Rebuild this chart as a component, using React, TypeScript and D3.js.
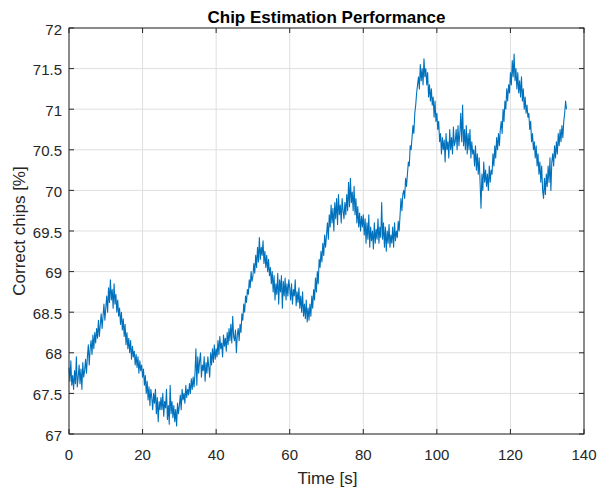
import React from "react";
import * as d3 from "d3";

// Sampling interval of the recorded estimate, in seconds
const SAMPLE_INTERVAL = 0.25;

// Percentage of correctly estimated chips, one value per sample (5 s per row)
const correctChips: number[] = [
  67.82, 67.65, 67.9, 67.6, 67.72, 67.55, 67.78, 67.62, 67.95, 67.58, 67.7, 67.85, 67.62, 67.8, 67.55, 67.88, 67.7, 67.78, 67.92, 67.75,
  67.95, 68.1, 67.85, 68.05, 68.15, 67.98, 68.22, 68.05, 68.25, 68.12, 68.3, 68.18, 68.4, 68.2, 68.35, 68.48, 68.3, 68.45, 68.6, 68.4,
  68.55, 68.7, 68.5, 68.8, 68.62, 68.9, 68.65, 68.78, 68.55, 68.85, 68.6, 68.72, 68.5, 68.65, 68.45, 68.55, 68.35, 68.5, 68.28, 68.42,
  68.2, 68.35, 68.1, 68.25, 68.05, 68.18, 68.0, 68.15, 67.92, 68.08, 67.95, 68.02, 67.85, 67.98, 67.82, 67.95, 67.75, 67.9, 67.78, 67.85,
  67.7, 67.8, 67.6, 67.72, 67.5, 67.65, 67.42, 67.58, 67.35, 67.55, 67.45, 67.3, 67.5, 67.38, 67.55, 67.25, 67.45, 67.15, 67.4, 67.3,
  67.45, 67.3, 67.5, 67.22, 67.4, 67.32, 67.55, 67.18, 67.35, 67.12, 67.6, 67.25, 67.4, 67.2, 67.35, 67.15, 67.3, 67.1, 67.38, 67.25,
  67.35, 67.48, 67.3, 67.55, 67.42, 67.5, 67.38, 67.6, 67.45, 67.55, 67.48, 67.62, 67.5, 67.68, 67.55, 67.7, 67.58, 67.75, 68.05, 67.6,
  67.95, 67.75, 67.9, 68.0, 67.7, 67.85, 67.78, 67.95, 67.65, 67.88, 67.75, 67.95, 67.82, 67.7, 68.0, 67.85, 68.05, 67.88, 68.1, 67.92,
  68.05, 67.95, 68.15, 67.98, 68.2, 68.05, 68.12, 67.95, 68.22, 68.08, 68.18, 68.02, 68.25, 68.1, 68.3, 68.15, 68.35, 68.12, 68.45, 68.2,
  68.15, 68.28, 68.0, 68.22, 68.3, 68.15, 68.35, 68.25, 68.48, 68.4, 68.6, 68.5, 68.7, 68.62, 68.78, 68.72, 68.9, 68.8, 69.0, 68.88,
  68.95, 69.1, 68.98, 69.2, 69.05, 69.3, 69.12, 69.42, 69.15, 69.3, 69.2, 69.38, 69.1, 69.25, 69.05, 69.2, 69.0, 69.15, 68.95, 69.05,
  68.85, 69.0, 68.75, 68.95, 68.65, 68.85, 68.72, 68.98, 68.6, 68.9, 68.75, 68.95, 68.55, 68.88, 68.7, 68.92, 68.65, 68.85, 68.7, 68.9,
  68.8, 68.65, 68.85, 68.6, 68.78, 68.7, 68.9, 68.58, 68.75, 68.62, 68.8, 68.55, 68.7, 68.5, 68.75, 68.45, 68.6, 68.42, 68.65, 68.38,
  68.55, 68.4, 68.6, 68.45, 68.7, 68.55, 68.78, 68.65, 68.92, 68.75, 69.0, 68.85, 69.15, 69.05, 69.25, 69.12, 69.35, 69.2, 69.45, 69.3,
  69.45, 69.6, 69.4, 69.7, 69.55, 69.82, 69.6, 69.78, 69.5, 69.85, 69.65, 69.9, 69.58, 69.95, 69.7, 69.82, 69.6, 69.9, 69.75, 69.65,
  69.85, 69.7, 69.95, 69.75, 70.1, 69.8, 70.15, 69.85, 69.98, 69.75, 70.05, 69.7, 69.9, 69.6, 69.8, 69.55, 69.72, 69.5, 69.68, 69.55,
  69.7, 69.45, 69.65, 69.35, 69.6, 69.4, 69.7, 69.3, 69.55, 69.38, 69.5, 69.28, 69.6, 69.35, 69.52, 69.4, 69.65, 69.35, 69.55, 69.42,
  69.85, 69.4, 69.6, 69.3, 69.55, 69.25, 69.5, 69.35, 69.58, 69.3, 69.45, 69.35, 69.55, 69.3, 69.6, 69.38, 69.5, 69.42, 69.62, 69.5,
  69.7, 69.9, 69.75, 69.95, 70.0, 69.9, 70.15, 70.05, 70.2, 70.35, 70.3, 70.55, 70.5, 70.65, 70.8, 70.7, 70.95, 71.05, 71.2, 71.3,
  71.4, 71.25, 71.55, 71.35, 71.5, 71.3, 71.62, 71.4, 71.5, 71.3, 71.45, 71.15, 71.3, 71.1, 71.25, 71.05, 71.15, 70.9, 71.1, 70.85,
  70.95, 70.75, 70.85, 70.6, 70.7, 70.45, 70.65, 70.5, 70.62, 70.35, 70.7, 70.5, 70.6, 70.4, 70.75, 70.5, 70.65, 70.45, 70.78, 70.55,
  70.6, 70.75, 70.5, 70.8, 70.55, 70.7, 70.95, 70.6, 71.05, 70.55, 70.75, 70.5, 70.8, 70.45, 70.7, 70.5, 70.75, 70.4, 70.6, 70.45,
  70.5, 70.3, 70.55, 70.25, 70.45, 70.2, 70.4, 70.1, 69.78, 70.2, 70.0, 70.35, 70.1, 70.25, 70.05, 70.2, 70.0, 70.3, 70.1, 70.25,
  70.2, 70.45, 70.3, 70.55, 70.4, 70.65, 70.5, 70.7, 70.55, 70.75, 70.85, 70.7, 71.0, 70.85, 71.1, 71.0, 71.25, 71.1, 71.3, 71.2,
  71.45, 71.3, 71.6, 71.4, 71.68, 71.35, 71.5, 71.25, 71.45, 71.2, 71.35, 71.15, 71.4, 71.1, 71.25, 71.0, 71.15, 70.95, 71.05, 70.9,
  70.95, 70.75, 70.85, 70.6, 70.7, 70.5, 70.6, 70.4, 70.55, 70.3, 70.45, 70.2, 70.35, 70.1, 70.3, 70.0, 69.9, 70.15, 69.95, 70.2,
  70.05, 70.3, 70.1, 70.4, 70.0, 70.35, 70.45, 70.3, 70.55, 70.4, 70.6, 70.45, 70.7, 70.55, 70.75, 70.6, 70.8, 70.65, 70.85, 70.95,
  71.1, 71.0,
];

const xTicks = [0, 20, 40, 60, 80, 100, 120, 140];
const yTicks = [67, 67.5, 68, 68.5, 69, 69.5, 70, 70.5, 71, 71.5, 72];

const WIDTH = 597;
const HEIGHT = 489;
const PLOT = { left: 69, right: 584, top: 28, bottom: 434 };
const AXIS_COLOR = "#262626";
const GRID_COLOR = "#dfdfdf";
const LINE_COLOR = "#0072BD";
const FONT = "'Liberation Sans', Arial, Helvetica, sans-serif";

export default function App() {
  const x = d3.scaleLinear().domain([0, 140]).range([PLOT.left, PLOT.right]);
  const y = d3.scaleLinear().domain([67, 72]).range([PLOT.bottom, PLOT.top]);

  const points: [number, number][] = correctChips.map((v, i) => [i * SAMPLE_INTERVAL, v]);
  const line = d3
    .line<[number, number]>()
    .x((d) => x(d[0]))
    .y((d) => y(d[1]));

  const tickLen = 5;

  return (
    <svg
      width={WIDTH}
      height={HEIGHT}
      style={{ position: "absolute", left: 0, top: 0, background: "#fff" }}
      fontFamily={FONT}
    >
      <rect x={0} y={0} width={WIDTH} height={HEIGHT} fill="#fff" />

      {/* grid */}
      {xTicks.map((t) => (
        <line key={`gx${t}`} x1={x(t)} x2={x(t)} y1={PLOT.top} y2={PLOT.bottom} stroke={GRID_COLOR} strokeWidth={1} />
      ))}
      {yTicks.map((t) => (
        <line key={`gy${t}`} x1={PLOT.left} x2={PLOT.right} y1={y(t)} y2={y(t)} stroke={GRID_COLOR} strokeWidth={1} />
      ))}

      {/* data */}
      <path d={line(points) ?? ""} fill="none" stroke={LINE_COLOR} strokeWidth={1.1} strokeLinejoin="round" />

      {/* box */}
      <rect
        x={PLOT.left}
        y={PLOT.top}
        width={PLOT.right - PLOT.left}
        height={PLOT.bottom - PLOT.top}
        fill="none"
        stroke={AXIS_COLOR}
        strokeWidth={1}
      />

      {/* ticks on all four sides, pointing inward */}
      {xTicks.map((t) => (
        <g key={`tx${t}`} stroke={AXIS_COLOR} strokeWidth={1}>
          <line x1={x(t)} x2={x(t)} y1={PLOT.bottom} y2={PLOT.bottom - tickLen} />
          <line x1={x(t)} x2={x(t)} y1={PLOT.top} y2={PLOT.top + tickLen} />
        </g>
      ))}
      {yTicks.map((t) => (
        <g key={`ty${t}`} stroke={AXIS_COLOR} strokeWidth={1}>
          <line x1={PLOT.left} x2={PLOT.left + tickLen} y1={y(t)} y2={y(t)} />
          <line x1={PLOT.right} x2={PLOT.right - tickLen} y1={y(t)} y2={y(t)} />
        </g>
      ))}

      {/* tick labels */}
      {xTicks.map((t) => (
        <text key={`lx${t}`} x={x(t)} y={PLOT.bottom + 26} textAnchor="middle" fontSize={15} fill={AXIS_COLOR}>
          {t}
        </text>
      ))}
      {yTicks.map((t) => (
        <text key={`ly${t}`} x={PLOT.left - 7} y={y(t) + 6.5} textAnchor="end" fontSize={15} fill={AXIS_COLOR}>
          {t}
        </text>
      ))}

      {/* title and axis labels */}
      <text x={(PLOT.left + PLOT.right) / 2} y={23} textAnchor="middle" fontSize={17} fontWeight="bold" fill="#000">
        Chip Estimation Performance
      </text>
      <text x={(PLOT.left + PLOT.right) / 2 + 1} y={484} textAnchor="middle" fontSize={17} fill={AXIS_COLOR}>
        Time [s]
      </text>
      <text
        transform={`translate(25, ${(PLOT.top + PLOT.bottom) / 2}) rotate(-90)`}
        textAnchor="middle"
        fontSize={17}
        fill={AXIS_COLOR}
      >
        Correct chips [%]
      </text>
    </svg>
  );
}
